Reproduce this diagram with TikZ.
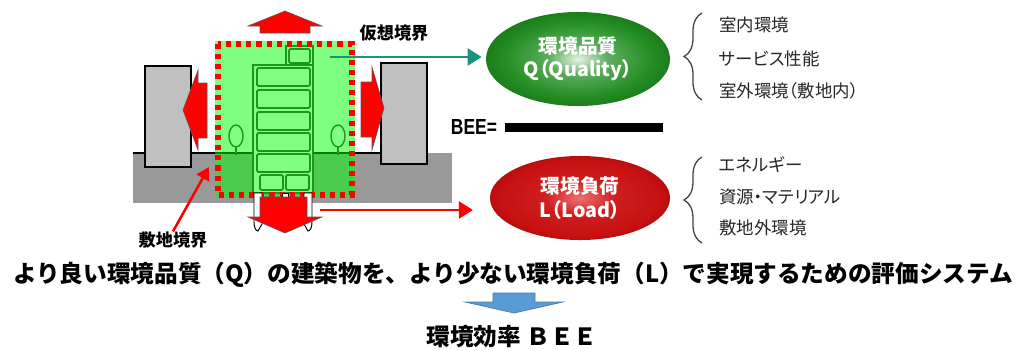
\documentclass[tikz,border=0pt]{standalone}
\usepackage{fontspec}
\usepackage{tikz}
\usetikzlibrary{shapes.geometric, arrows.meta, positioning, decorations.pathreplacing}
\newfontfamily\jpfont{Noto Sans CJK JP}
\newfontfamily\jppfont[RawFeature=+palt]{Noto Sans CJK JP}
\newfontfamily\beefont[FakeStretch=0.8]{Liberation Sans}
\definecolor{groundgray}{HTML}{999999}
\definecolor{wallgray}{HTML}{C0C0C0}
\definecolor{towergreen}{HTML}{1E961E}
\definecolor{lightgreen}{HTML}{80FF80}
\definecolor{flowteal}{HTML}{17967A}
\definecolor{blockblue}{HTML}{5B9BD5}
\definecolor{qlite}{HTML}{E6F5E6}
\definecolor{qmid}{HTML}{238E23}
\definecolor{qdark}{HTML}{075207}
\definecolor{llite}{HTML}{EE7070}
\definecolor{lmid}{HTML}{C81010}
\definecolor{ldark}{HTML}{6A0000}
\pgfdeclareradialshading{qualityshade}{\pgfpoint{0bp}{0bp}}{color(0bp)=(qlite); color(8bp)=(qmid!70!qlite); color(20bp)=(qmid); color(38bp)=(qdark); color(60bp)=(qdark)}
\pgfdeclareradialshading{loadshade}{\pgfpoint{0bp}{0bp}}{color(0bp)=(llite); color(10bp)=(lmid!85!llite); color(22bp)=(lmid); color(40bp)=(ldark); color(60bp)=(ldark)}

\begin{document}
\begin{tikzpicture}[
    x=0.025cm, y=-0.025cm,
    wall/.style={fill=wallgray, draw=black, line width=1pt},
    blockarrow/.style={fill=red, draw=black!65, line width=0.4pt},
    tower/.style={fill=lightgreen, draw=towergreen, line width=1.4pt},
    floorbox/.style={fill=lightgreen, draw=towergreen, line width=1.3pt, rounded corners=1pt},
    tree/.style={fill=lightgreen, draw=towergreen, line width=1pt},
    boundary/.style={draw=red, line width=3.6pt, dash pattern=on 3.6pt off 3.6pt},
    leg/.style={fill=white, draw=black, line width=0.7pt},
    flow/.style={line width=2.1pt, -{Triangle[length=10pt, width=12pt]}},
    pointer/.style={red, line width=1.8pt, -{Triangle[length=9pt, width=10pt]}},
    boundlabel/.style={inner sep=0pt, font=\jpfont\bfseries\fontsize{12.2}{14}\selectfont},
    evalnode/.style={ellipse, shade, inner sep=0pt, text=white, align=center,
        font=\jppfont\bfseries\fontsize{14}{16.5}\selectfont},
    listitem/.style={anchor=west, inner sep=0pt, text=black!85,
        font=\jppfont\fontsize{12.4}{14}\selectfont},
    headline/.style={inner sep=0pt, font=\jpfont\bfseries\fontsize{16.8}{20}\selectfont},
    sidebrace/.style={decorate, decoration={brace, amplitude=0.45cm}, draw=black!75, line width=0.9pt}
]
    \useasboundingbox (0,0) rectangle (1027,349);

    \fill[groundgray] (133,153) rectangle (452,203);
    \draw[line width=1pt] (133,153) -- (381,153);
    \draw[wall] (145,66) rectangle (191,167);
    \draw[wall] (381,63) rectangle (427,164);
    \draw[blockarrow] (183,110) -- (198,70) -- (198,83) -- (207,83) -- (207,138) -- (198,138) -- (198,150) -- cycle;
    \draw[blockarrow] (384,108) -- (372,67) -- (372,82) -- (361,82) -- (361,137) -- (372,137) -- (372,150) -- cycle;

    \fill[green, opacity=0.5] (215,41) rectangle (355,198);
    \foreach \tx in {236,338} {
        \draw[towergreen, line width=1.4pt] (\tx,146) -- (\tx,155);
        \draw[tree] (\tx,136) ellipse [x radius=0.175cm, y radius=0.275cm];
    }
    \draw[tower] (253,65) rectangle (313,193);
    \draw[tower] (286,46) rectangle (313,65);
    \draw[floorbox] (289,49) rectangle (310,63);
    \foreach \fy in {68,90,112,133,154}
        \draw[floorbox] (257,\fy) rectangle (310,\fy+18);
    \draw[floorbox] (260,175) rectangle (283,190);
    \draw[floorbox] (286,175) rectangle (309,190);
    \draw[boundary] (218,44) rectangle (352,195);

    \draw[leg] (254,193) -- (254,222) .. controls (254,228) and (256,231) .. (258,231) -- (262,224) -- (262,193) -- cycle;
    \draw[leg] (312,193) -- (312,222) .. controls (312,228) and (310,231) .. (308,231) -- (304,224) -- (304,193) -- cycle;
    \draw[leg] (282,193) rectangle (288,201);
    \draw[blockarrow] (260,197) -- (307,197) -- (307,217) -- (322,217) -- (285,233) -- (248,217) -- (260,217) -- cycle;
    \draw[blockarrow] (260,33) -- (260,26) -- (248,26) -- (285,11) -- (322,26) -- (310,26) -- (310,33) -- cycle;

    \node[boundlabel] (virtual) at (394,33) {仮想境界};
    \node[boundlabel] (site) at (173,240) {敷地境界};
    \coordinate (sitecorner) at (209,167);
    \coordinate (qstart) at (330,57);
    \coordinate (lstart) at (320,210);

    \node[evalnode, shading=qualityshade, minimum width=4.6cm, minimum height=2.35cm] (quality) at (578,59) {環境品質\\Q（Quality）};
    \node[evalnode, shading=loadshade, minimum width=4.5cm, minimum height=2.1cm] (load) at (580,198) {環境負荷\\L（Load）};

    \draw[flow, flowteal, shorten >=0.1cm] (qstart) -- (qstart -| quality.west);
    \draw[flow, red, shorten >=0.42cm] (lstart) -- (lstart -| load.west);
    \draw[pointer] (site.north) -- (sitecorner);

    \node[inner sep=0pt, font=\beefont\bfseries\fontsize{15.5}{18}\selectfont] (bee) at (474,127) {BEE=};
    \fill (505,123) rectangle (663,132);

    \node[listitem] (indoor) at (719,25) {室内環境};
    \node[listitem, below=0.85cm of indoor.west, anchor=west] (service) {サービス性能};
    \node[listitem, below=0.8cm of service.west, anchor=west] (outdoor) {室外環境（敷地内）};
    \node[listitem] (energy) at (719,165) {エネルギー};
    \node[listitem, below=0.8cm of energy.west, anchor=west] (material) {資源・マテリアル};
    \node[listitem, below=0.78cm of material.west, anchor=west] (offsite) {敷地外環境};
    \draw[sidebrace] (702,100) -- (702,13);
    \draw[sidebrace] (702,243) -- (702,157);

    \node[headline] (aim) at (513,275) {より良い環境品質（Q）の建築物を、より少ない環境負荷（L）で実現するための評価システム};
    \draw[fill=blockblue, draw=blockblue!80!black, line width=0.5pt] (493,293) -- (535,293) -- (535,302) -- (563,302) -- (514,313) -- (465,302) -- (493,302) -- cycle;
    \node[headline] (efficiency) at (512,337) {環境効率 ＢＥＥ};
\end{tikzpicture}
\end{document}
